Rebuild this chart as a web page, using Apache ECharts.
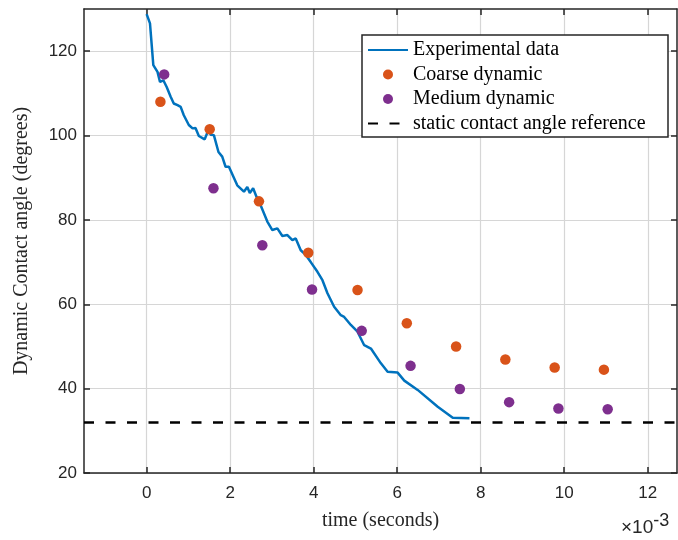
<!DOCTYPE html>
<html>
<head>
<meta charset="utf-8">
<script src="https://cdn.jsdelivr.net/npm/echarts@6/dist/echarts.min.js"></script>
<style>html,body{margin:0;padding:0;background:#fff;}#c{width:678px;height:540px;}</style>
</head>
<body>
<div id="c"></div>
<script>
// time in units of 1e-3 s
const expTime = [0,0.08,0.16,0.26,0.32,0.40,0.48,0.575,0.65,0.74,0.815,0.89,1.01,1.10,1.17,1.25,1.29,1.39,1.45,1.50,1.53,1.61,1.72,1.81,1.89,1.97,2.17,2.33,2.41,2.47,2.55,2.63,2.69,2.89,3.01,3.13,3.25,3.37,3.49,3.57,3.61,3.69,3.81,3.93,4.09,4.21,4.33,4.49,4.65,4.73,4.89,5.05,5.21,5.37,5.61,5.77,6.01,6.17,6.49,6.97,7.33,7.73];
const expAngle = [128.8,126.6,116.7,115.1,112.7,113.1,111.5,109.2,107.6,107.2,106.8,104.8,102.5,101.7,101.8,99.9,99.7,99.1,100.6,101.6,100.2,100.1,96.1,95.0,92.6,92.6,88.2,86.7,87.8,86.4,87.5,85.5,84.4,79.6,77.6,78.0,76.2,76.4,75.2,75.6,76.0,72.8,71.7,70.0,67.7,65.7,62.6,59.4,57.4,57.0,55.1,53.5,50.3,49.5,46.0,44.0,43.8,41.9,39.7,35.7,33.1,33.0];
const coarseTime = [0.33,1.51,2.69,3.87,5.05,6.23,7.41,8.59,9.77,10.95];
const coarseAngle = [108.0,101.5,84.4,72.2,63.4,55.5,50.0,46.9,45.0,44.5];
const mediumTime = [0.42,1.60,2.77,3.96,5.15,6.32,7.50,8.68,9.86,11.04];
const mediumAngle = [114.5,87.5,74.0,63.5,53.7,45.4,39.9,36.8,35.3,35.1];
const staticAngle = 32;
const xRange = [-1.5, 12.7];
const yRange = [20, 130];
const xTicks = [0,2,4,6,8,10,12];
const yTicks = [20,40,60,80,100,120];
const seriesNames = ['Experimental data','Coarse dynamic','Medium dynamic','static contact angle reference'];

const zip = (a,b) => a.map((v,i)=>[v,b[i]]);
const AX = '#262626';
const sans = 'Liberation Sans';
const serif = 'Liberation Serif';

const chart = echarts.init(document.getElementById('c'), null, {renderer:'canvas'});
const axisCommon = {
  type:'value',
  axisLine:{show:true, onZero:false, lineStyle:{color:AX, width:1.5}},
  axisTick:{show:true, inside:true, length:6, lineStyle:{color:AX, width:1.5}},
};
chart.setOption({
  animation:false,
  backgroundColor:'#fff',
  grid:{left:84, top:9, width:593, height:464},
  xAxis:[
    Object.assign({}, axisCommon, {
      min:xRange[0], max:xRange[1], position:'bottom',
      axisTick:Object.assign({}, axisCommon.axisTick, {customValues:xTicks}),
      axisLabel:{customValues:xTicks, color:AX, fontFamily:sans, fontSize:17, margin:12},
      splitLine:{show:true, lineStyle:{color:'#d6d6d6', width:1.2}},
      name:'time (seconds)', nameLocation:'middle', nameGap:38,
      nameTextStyle:{fontFamily:serif, fontSize:20, color:AX}
    }),
    Object.assign({}, axisCommon, {
      min:xRange[0], max:xRange[1], position:'top',
      axisTick:Object.assign({}, axisCommon.axisTick, {customValues:xTicks}),
      axisLabel:{show:false}, splitLine:{show:false}
    })
  ],
  yAxis:[
    Object.assign({}, axisCommon, {
      min:yRange[0], max:yRange[1], position:'left',
      axisTick:Object.assign({}, axisCommon.axisTick, {customValues:yTicks}),
      axisLabel:{customValues:yTicks, color:AX, fontFamily:sans, fontSize:17, margin:7},
      splitLine:{show:true, lineStyle:{color:'#d6d6d6', width:1.2}},
      name:'Dynamic Contact angle (degrees)', nameLocation:'middle', nameGap:52, nameRotate:90,
      nameTextStyle:{fontFamily:serif, fontSize:20, color:AX}
    }),
    Object.assign({}, axisCommon, {
      min:yRange[0], max:yRange[1], position:'right',
      axisTick:Object.assign({}, axisCommon.axisTick, {customValues:yTicks}),
      axisLabel:{show:false}, splitLine:{show:false}
    })
  ],
  legend:{
    orient:'vertical', left:367, top:40, padding:0, itemGap:4.5,
    itemWidth:40, itemHeight:10, z:10,
    textStyle:{fontFamily:serif, fontSize:20, color:'#000', lineHeight:20},
    data:[
      {name:seriesNames[0], itemStyle:{opacity:0}},
      {name:seriesNames[1], icon:'circle'},
      {name:seriesNames[2], icon:'circle'},
      {name:seriesNames[3], itemStyle:{opacity:0}}
    ]
  },
  graphic:[
    {type:'rect', z:9, shape:{x:362, y:35, width:306, height:102},
     style:{fill:'#fff', stroke:AX, lineWidth:1.5}},
    {type:'text', z:10, left:621, top:512,
     style:{text:'{a|×10}{b|-3}', rich:{
       a:{fontFamily:sans, fontSize:19, fill:AX, verticalAlign:'bottom', lineHeight:25},
       b:{fontFamily:sans, fontSize:18, fill:AX, verticalAlign:'top', lineHeight:25, padding:[0,0,10,0]}
     }}}
  ],
  series:[
    {name:seriesNames[0], type:'line', data:zip(expTime, expAngle), showSymbol:false, symbol:'none',
     lineStyle:{color:'#0072BD', width:2.5}, itemStyle:{color:'#0072BD'}, z:3},
    {name:seriesNames[1], type:'scatter', data:zip(coarseTime, coarseAngle), symbolSize:10.5,
     itemStyle:{color:'#D95319', opacity:1}, z:4},
    {name:seriesNames[2], type:'scatter', data:zip(mediumTime, mediumAngle), symbolSize:10.5,
     itemStyle:{color:'#7E2F8E', opacity:1}, z:4},
    {name:seriesNames[3], type:'line', data:[[xRange[0], staticAngle],[xRange[1], staticAngle]],
     symbol:'none', showSymbol:false,
     lineStyle:{color:'#000', width:2.5, type:[10,11.5]}, itemStyle:{color:'#000'}, z:3}
  ]
});
</script>
</body>
</html>
